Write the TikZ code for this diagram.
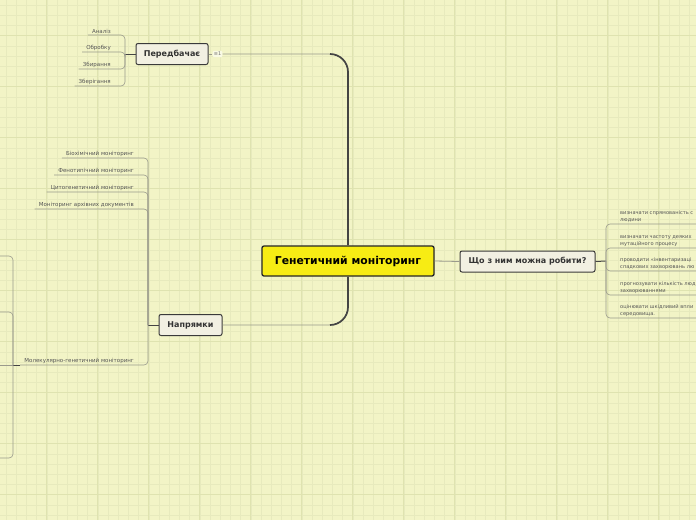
\documentclass[tikz,border=0pt]{standalone}
\usepackage{fontspec}
\setmainfont{DejaVu Sans}
\usetikzlibrary{positioning}
\definecolor{map-bg}{HTML}{F2F4C6}
\definecolor{map-grid}{HTML}{E7EABD}
\definecolor{map-grid-major}{HTML}{DFE3B0}
\definecolor{centre-fill}{HTML}{F7EC14}
\definecolor{topic-fill}{HTML}{F2F0E2}
\definecolor{topic-border}{HTML}{3A3A3A}
\definecolor{link-dark}{HTML}{444444}
\definecolor{link-light}{HTML}{9A9A8C}
\definecolor{leaf-text}{HTML}{555555}
\tikzset{
  map-centre/.style={
    draw=black!85, fill=centre-fill, line width=1.3pt, rounded corners=2pt,
    minimum width=172pt, minimum height=30pt, inner sep=0pt,
    font=\fontsize{10.8}{12}\selectfont\bfseries
  },
  map-topic/.style={
    draw=topic-border, fill=topic-fill, line width=1pt, rounded corners=2pt,
    minimum height=21pt, inner sep=0pt, text=black!80,
    font=\fontsize{8}{9}\selectfont\bfseries
  },
  map-badge/.style={
    fill=white!55!map-bg, rounded corners=1pt, inner sep=1.2pt,
    text=black!55, font=\fontsize{5}{6}\selectfont
  },
  map-leaf/.style={
    anchor=south east, inner xsep=4pt, inner ysep=1.5pt, text=leaf-text,
    font=\fontsize{5.5}{7}\selectfont
  },
  map-leaf-right/.style={map-leaf, anchor=south west, align=left,
    font=\fontsize{5.1}{7}\selectfont},
  map-link/.style={draw=link-light, line width=0.8pt},
  map-trunk/.style={draw=link-dark, line width=1.7pt, rounded corners=18pt},
  map-twig/.style={draw=link-light, line width=0.6pt, rounded corners=4pt},
  map-joint/.style={draw=link-dark, line width=1pt}
}

\begin{document}
\begin{tikzpicture}[x=1pt, y=-1pt]
  \useasboundingbox (0,0) rectangle (696,520);
  \clip (0,0) rectangle (696,520);
  \fill[map-bg] (0,0) rectangle (696,520);
  \foreach \gx in {0,...,68}
    \draw[map-grid, line width=0.5pt] ({6+10.2*\gx},0) -- ({6+10.2*\gx},520);
  \foreach \gy in {0,...,51}
    \draw[map-grid, line width=0.5pt] (0,{5+10.2*\gy}) -- (696,{5+10.2*\gy});
  \foreach \gx in {0,...,13}
    \draw[map-grid-major, line width=0.8pt] ({46.8+51*\gx},0) -- ({46.8+51*\gx},520);
  \foreach \gy in {0,...,10}
    \draw[map-grid-major, line width=0.8pt] (0,{35.6+51*\gy}) -- (696,{35.6+51*\gy});

  % main topics
  \node[map-centre] (centre)  at (348, 261)   {Генетичний моніторинг};
  \node[map-topic, minimum width=135pt] (todo)    at (527.5, 261.5) {Що з ним можна робити?};
  \node[map-topic, minimum width=72pt]  (predict) at (172, 54)      {Передбачає};
  \node[map-topic, minimum width=63pt]  (dirs)    at (190.5, 325)   {Напрямки};
  \node[map-badge] (badge) at (217.5, 54) {≡1};

  \coordinate (trunk-top)    at (330, 54);
  \coordinate (trunk-bottom) at (330, 325);

  \draw[map-link, rounded corners=18pt] (badge.east) -| (centre.north);
  \draw[map-link, rounded corners=18pt] (centre.south) |- (dirs.east);
  \draw[map-trunk] (centre.north) |- (trunk-top);
  \draw[map-trunk] (centre.south) |- (trunk-bottom);
  \draw[map-link] (predict.east) -- (badge.west);
  \draw[map-link] (centre.east) -- (todo.west);

  % Передбачає
  \coordinate (jp) at (125, 54);
  \node[map-leaf] (p1) at (115, 35) {Аналіз};
  \node[map-leaf] (p2) at (115, 52) {Обробку};
  \node[map-leaf] (p3) at (115, 69) {Збирання};
  \node[map-leaf] (p4) at (115, 86) {Зберігання};
  \draw[map-joint] (predict.west) -- (jp);
  \draw[map-twig] (jp) |- (p1.south west);
  \draw[map-twig] (jp) |- (p2.south west);
  \draw[map-twig] (jp) |- (p3.south west);
  \draw[map-twig] (jp) |- (p4.south west);

  % Напрямки
  \coordinate (jd) at (148, 325);
  \node[map-leaf] (d1) at (138, 158) {Біохімічний моніторинг};
  \node[map-leaf] (d2) at (138, 175) {Фенотипічний моніторинг};
  \node[map-leaf] (d3) at (138, 192) {Цитогенетичний моніторинг};
  \node[map-leaf] (d4) at (138, 209) {Моніторинг архівних документів};
  \node[map-leaf] (d5) at (138, 365) {Молекулярно-генетичний моніторинг};
  \draw[map-joint] (dirs.west) -- (jd);
  \draw[map-twig] (jd) |- (d1.south west);
  \draw[map-twig] (jd) |- (d2.south west);
  \draw[map-twig] (jd) |- (d3.south west);
  \draw[map-twig] (jd) |- (d4.south west);
  \draw[map-twig] (jd) |- (d5.south west);

  % Молекулярно-генетичний моніторинг (гілки за краєм)
  \coordinate (jm) at (13, 365);
  \coordinate (m1) at (-10, 256);
  \coordinate (m2) at (-10, 312);
  \coordinate (m3) at (-10, 365);
  \coordinate (m4) at (-10, 458);
  \draw[map-joint] (d5.south west) -- (jm);
  \draw[map-twig] (jm) |- (m1);
  \draw[map-twig] (jm) |- (m2);
  \draw[map-twig] (jm) -- (m3);
  \draw[map-twig] (jm) |- (m4);

  % Що з ним можна робити?
  \coordinate (jt) at (606, 261);
  \coordinate (te) at (700, 261);
  \node[map-leaf-right] (t1) at (616, 224) {визначати спрямованість с\\людини};
  \node[map-leaf-right] (t2) at (616, 248) {визначати частоту деяких\\мутаційного процесу};
  \node[map-leaf-right] (t3) at (616, 271) {проводити «інвентаризаці\\спадкових захворювань лю};
  \node[map-leaf-right] (t4) at (616, 295) {прогнозувати кількість люд\\захворюваннями};
  \node[map-leaf-right] (t5) at (616, 318) {оцінювати шкідливий впли\\середовища.};
  \draw[map-joint] (todo.east) -- (jt);
  \draw[map-twig] (jt) |- (t1.south -| te);
  \draw[map-twig] (jt) |- (t2.south -| te);
  \draw[map-twig] (jt) |- (t3.south -| te);
  \draw[map-twig] (jt) |- (t4.south -| te);
  \draw[map-twig] (jt) |- (t5.south -| te);
\end{tikzpicture}
\end{document}
